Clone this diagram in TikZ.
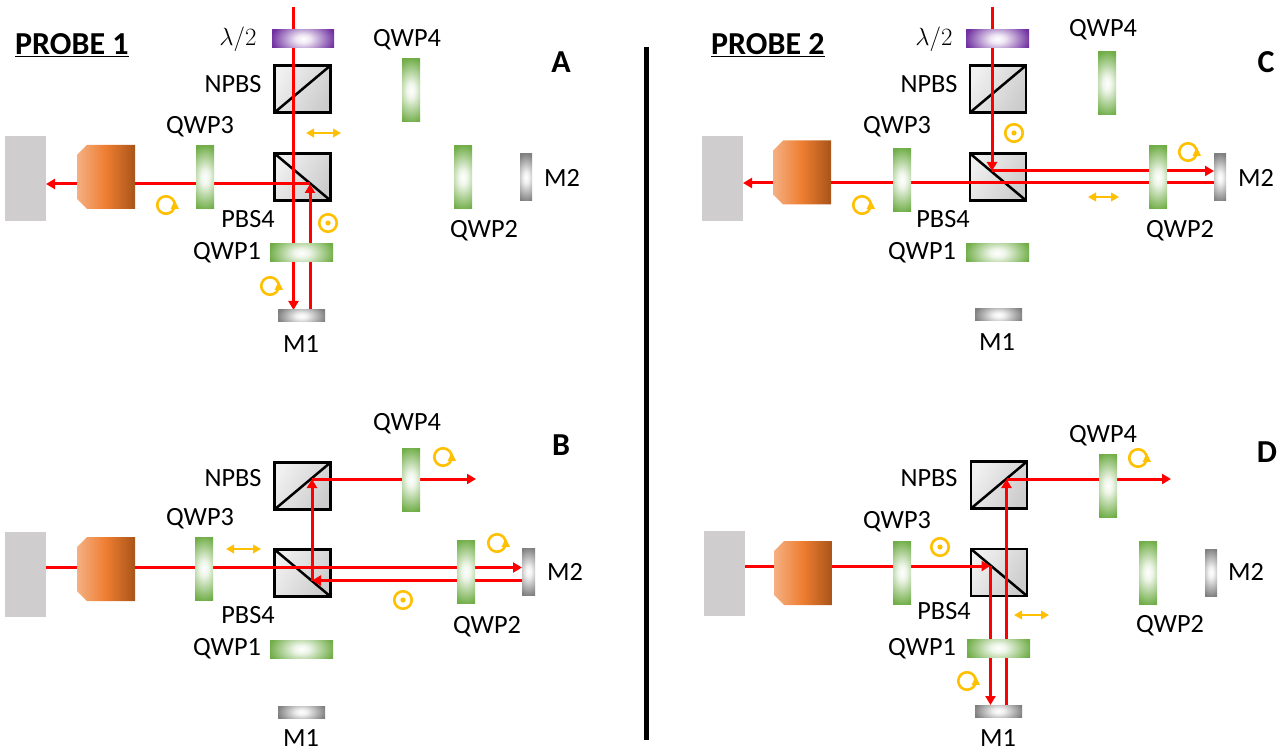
\documentclass[tikz,border=0pt]{standalone}
\usepackage{fontspec}
\setmainfont{Carlito}
\usetikzlibrary{arrows.meta}
\definecolor{greenplatecol}{HTML}{70AD47}
\definecolor{violetplatecol}{HTML}{7030A0}
\definecolor{grayplatecol}{HTML}{7F7F7F}
\definecolor{camgray}{HTML}{CFCDCD}
\definecolor{polcol}{HTML}{FFC000}
\pgfdeclareradialshading{greenplate}{\pgfpointorigin}{color(0bp)=(white);color(6bp)=(white!88!greenplatecol);color(15bp)=(white!48!greenplatecol);color(26bp)=(greenplatecol);color(50bp)=(greenplatecol)}
\pgfdeclareradialshading{violetplate}{\pgfpointorigin}{color(0bp)=(white);color(6bp)=(white!88!violetplatecol);color(15bp)=(white!48!violetplatecol);color(26bp)=(violetplatecol);color(50bp)=(violetplatecol)}
\pgfdeclareradialshading{grayplate}{\pgfpointorigin}{color(0bp)=(white);color(6bp)=(white!88!grayplatecol);color(15bp)=(white!48!grayplatecol);color(26bp)=(grayplatecol);color(50bp)=(grayplatecol)}
\pgfdeclarehorizontalshading{lensshade}{100bp}{rgb(0bp)=(0.96,0.69,0.51);rgb(25bp)=(0.96,0.69,0.51);rgb(50bp)=(0.93,0.49,0.19);rgb(75bp)=(0.66,0.33,0.10);rgb(100bp)=(0.66,0.33,0.10)}
\tikzset{
  x=1pt,y=-1pt,
  cam/.style={fill=camgray,minimum width=41pt,minimum height=85pt,inner sep=0pt,outer sep=0pt},
  cube/.style={draw=black,line width=2.5pt,top color=white!94!black,bottom color=white!80!black,shading angle=60,minimum width=56pt,minimum height=47pt,inner sep=0pt,outer sep=0pt},
  split/.style={draw=black,line width=2.5pt},
  beam/.style={draw=red,line width=3pt},
  beamtip/.style={beam,-{Triangle[length=9pt,width=10pt]}},
  pol/.style={draw=polcol,line width=2pt,{Triangle[length=8pt,width=8.5pt]}-{Triangle[length=8pt,width=8.5pt]}},
  lab/.style={font=\fontsize{26.3}{26.3}\selectfont,inner sep=0pt},
  head/.style={font=\fontsize{32}{32}\selectfont\bfseries,inner sep=0pt},
  rotring/.style={circle,draw=polcol,line width=2.6pt,minimum size=17.5pt,inner sep=0pt,outer sep=0pt},
  dotring/.style={circle,draw=polcol,line width=2.6pt,minimum size=17.5pt,inner sep=0pt,outer sep=0pt},
}
% name, centre, width, height, shading
\newcommand{\optic}[5]{\node[inner sep=0pt,outer sep=0pt,minimum width=#3pt,minimum height=#4pt,
  path picture={\pgfmathsetmacro{\qa}{#3<#4?1.0*#3:0.5*#3}\pgfmathsetmacro{\qb}{#3<#4?0.5*#4:1.0*#4}\shade[shading=#5] ([shift={(-\qa,-\qb)}]path picture bounding box.center) rectangle ([shift={(\qa,\qb)}]path picture bounding box.center);}] (#1) at (#2) {};}
\newcommand{\pbscube}[2]{\node[cube] (#1) at (#2) {};\draw[split] (#1.north west) -- (#1.south east);}
\newcommand{\npbscube}[2]{\node[cube] (#1) at (#2) {};\draw[split] (#1.south west) -- (#1.north east);}
\newcommand{\rotmark}[2]{\node[rotring] (#1) at (#2) {};\fill[polcol] ([shift={(4.6,3.9)}]#1.center) -- ([shift={(13,3.9)}]#1.center) -- ([shift={(8.7,-4.6)}]#1.center) -- cycle;}
\newcommand{\dotmark}[2]{\node[dotring] (#1) at (#2) {};\fill[polcol] (#1.center) circle [radius=2.6pt];}
\newcommand{\lensbody}[2]{\coordinate (#1) at (#2);\shade[shading=lensshade] ([shift={(-19,-32)}]#1) -- ([shift={(29,-32)}]#1) -- ([shift={(29,32)}]#1) -- ([shift={(-19,32)}]#1) -- ([shift={(-29,22)}]#1) -- ([shift={(-29,-22)}]#1) -- cycle;}
\begin{document}
\begin{tikzpicture}
\useasboundingbox (0,0) rectangle (1285,751);
\fill[white] (0,0) rectangle (1285,751);
% divider
\coordinate (divT) at (646,47);
\coordinate (divB) at (646,740);
\draw[black,line width=5pt] (divT) -- (divB);
% headings
\node[head,anchor=west] (hp1) at (15,45) {\underline{PROBE 1}};
\node[head,anchor=west] (hp2) at (711,45) {\underline{PROBE 2}};
\node[head] (hA) at (561,62) {A};
\node[head] (hB) at (561,445) {B};
\node[head] (hC) at (1266,62) {C};
\node[head] (hD) at (1267,452) {D};

% ---------- panel A
\node[cam] (acam) at (25.5,178.5) {};
\npbscube{anpbs}{302.5,89}
\pbscube{apbs}{302.5,177}
\coordinate (at1) at (293.5,7);
\coordinate (am1a) at (293.5,310);
\coordinate (am1b) at (310,310);
\coordinate (ast) at (310,184);
\coordinate (acamin) at (46,184);
\draw[beamtip] (at1) -- (am1a);
\draw[beamtip] (am1b) -- (ast);
\draw[beamtip] (ast) -- (acamin);
\lensbody{alens}{106,177}
\optic{alam}{303,39}{62}{18}{violetplate}
\optic{aq3}{205,177.5}{18}{63}{greenplate}
\optic{aq1}{301.5,253}{63}{18}{greenplate}
\optic{am1}{301.5,316}{47}{12}{grayplate}
\optic{aq4}{411,90.5}{18}{63}{greenplate}
\optic{aq2}{463,177.5}{18}{63}{greenplate}
\optic{am2}{526,177.5}{12}{47}{grayplate}
\coordinate (apa) at (306,133);
\coordinate (apb) at (341,133);
\draw[pol] (apa) -- (apb);
\rotmark{ar1}{166,205}
\rotmark{ar2}{270,286}
\dotmark{ao1}{328,223}
\node[lab] (llama) at (238,39) {$\lambda/2$};
\node[lab] (lna) at (233,84) {NPBS};
\node[lab] (lq3a) at (200,127) {QWP3};
\node[lab] (lpa) at (248,219) {PBS4};
\node[lab] (lq1a) at (227,253) {QWP1};
\node[lab] (lm1a) at (301,344) {M1};
\node[lab] (lq4a) at (407,40) {QWP4};
\node[lab] (lq2a) at (484,231) {QWP2};
\node[lab] (lm2a) at (562,178) {M2};

% ---------- panel B
\node[cam] (bcam) at (25.5,574.5) {};
\npbscube{bnpbs}{302.5,486}
\pbscube{bpbs}{302.5,573}
\coordinate (bcamin) at (46,567.5);
\coordinate (bm2a) at (522,567.5);
\coordinate (bm2b) at (522,580.5);
\coordinate (bst) at (312,580.5);
\coordinate (bup) at (312,479);
\coordinate (bout) at (476,479);
\draw[beamtip] (bcamin) -- (bm2a);
\draw[beamtip] (bm2b) -- (bst);
\draw[beamtip] (bst) -- (bup);
\draw[beamtip] (bup) -- (bout);
\lensbody{blens}{106,569}
\optic{bq3}{204,568.5}{18}{63}{greenplate}
\optic{bq1}{301.5,649}{63}{18}{greenplate}
\optic{bm1}{301.5,712}{47}{12}{grayplate}
\optic{bq4}{411,479.5}{18}{63}{greenplate}
\optic{bq2}{466,571.5}{18}{63}{greenplate}
\optic{bm2}{528.5,571.5}{13}{47}{grayplate}
\coordinate (bpa) at (226,549);
\coordinate (bpb) at (261,549);
\draw[pol] (bpa) -- (bpb);
\rotmark{br1}{443,457}
\rotmark{br2}{497,543}
\dotmark{bo1}{403,600}
\node[lab] (lnb) at (233,478) {NPBS};
\node[lab] (lq3b) at (200,519) {QWP3};
\node[lab] (lpb) at (248,615) {PBS4};
\node[lab] (lq1b) at (227,649) {QWP1};
\node[lab] (lm1b) at (301,738) {M1};
\node[lab] (lq4b) at (407,424) {QWP4};
\node[lab] (lq2b) at (487,627) {QWP2};
\node[lab] (lm2b) at (565,572) {M2};

% ---------- panel C
\node[cam] (ccam) at (722,178.5) {};
\npbscube{cnpbs}{998,89}
\pbscube{cpbs}{998,177}
\coordinate (ct1) at (992,7);
\coordinate (cst) at (992,171);
\coordinate (cm2a) at (1214,171);
\coordinate (cm2b) at (1214,183);
\coordinate (ccamin) at (743,183);
\draw[beamtip] (ct1) -- (cst);
\draw[beamtip] (cst) -- (cm2a);
\draw[beamtip] (cm2b) -- (ccamin);
\lensbody{clens}{802,172.5}
\optic{clam}{997.5,39}{63}{18}{violetplate}
\optic{cq3}{902,180}{18}{63}{greenplate}
\optic{cq1}{997.5,253}{63}{18}{greenplate}
\optic{cm1}{998.5,315}{47}{12}{grayplate}
\optic{cq4}{1107,83.5}{18}{63}{greenplate}
\optic{cq2}{1158,177.5}{18}{63}{greenplate}
\optic{cm2}{1220,177.5}{12}{47}{grayplate}
\coordinate (cpa) at (1088,197);
\coordinate (cpb) at (1119,197);
\draw[pol] (cpa) -- (cpb);
\rotmark{cr1}{862,205}
\rotmark{cr2}{1188,152}
\dotmark{co1}{1014,133}
\node[lab] (llamc) at (934,39) {$\lambda/2$};
\node[lab] (lnc) at (929,84) {NPBS};
\node[lab] (lq3c) at (897,127) {QWP3};
\node[lab] (lpc) at (943,219) {PBS4};
\node[lab] (lq1c) at (922,253) {QWP1};
\node[lab] (lm1c) at (997,342) {M1};
\node[lab] (lq4c) at (1103,30) {QWP4};
\node[lab] (lq2c) at (1180,231) {QWP2};
\node[lab] (lm2c) at (1256,178) {M2};

% ---------- panel D
\node[cam] (dcam) at (724,573.5) {};
\npbscube{dnpbs}{999,485}
\pbscube{dpbs}{999,572.5}
\coordinate (dcamin) at (745,566);
\coordinate (dst) at (990.5,566);
\coordinate (dm1a) at (990.5,705);
\coordinate (dm1b) at (1006.5,705);
\coordinate (dup) at (1006.5,479);
\coordinate (dout) at (1171,479);
\draw[beamtip] (dcamin) -- (dst);
\draw[beamtip] (dst) -- (dm1a);
\draw[beamtip] (dm1b) -- (dup);
\draw[beamtip] (dup) -- (dout);
\lensbody{dlens}{803,573}
\optic{dq3}{902,572.5}{18}{63}{greenplate}
\optic{dq1}{998.5,648}{63}{18}{greenplate}
\optic{dm1}{998.5,711}{47}{12}{grayplate}
\optic{dq4}{1108,485.5}{18}{63}{greenplate}
\optic{dq2}{1148,572.5}{18}{63}{greenplate}
\optic{dm2}{1211,572.5}{12}{47}{grayplate}
\coordinate (dpa) at (1014,615);
\coordinate (dpb) at (1049,615);
\draw[pol] (dpa) -- (dpb);
\rotmark{dr1}{967,681}
\rotmark{dr2}{1138,458}
\dotmark{do1}{940,547}
\node[lab] (lnd) at (929,478) {NPBS};
\node[lab] (lq3d) at (897,522) {QWP3};
\node[lab] (lpd) at (944,611) {PBS4};
\node[lab] (lq1d) at (922,649) {QWP1};
\node[lab] (lm1d) at (998,738) {M1};
\node[lab] (lq4d) at (1103,436) {QWP4};
\node[lab] (lq2d) at (1170,626) {QWP2};
\node[lab] (lm2d) at (1246,572) {M2};
\end{tikzpicture}
\end{document}
